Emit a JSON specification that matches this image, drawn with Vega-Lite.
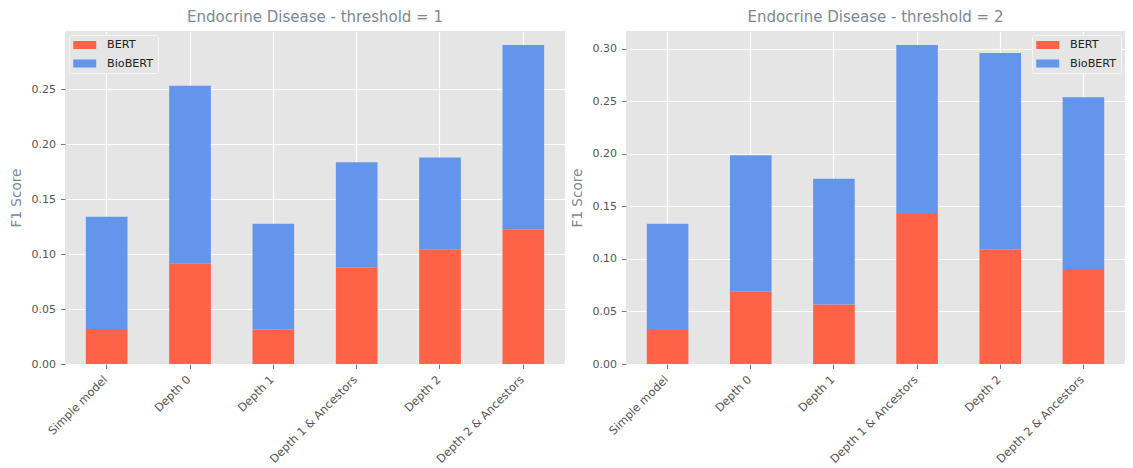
{
  "$schema": "https://vega.github.io/schema/vega-lite/v6.json",
  "padding": {"left": 9, "top": 10, "right": 0, "bottom": 0},
  "background": "white",
  "data": {
    "values": [
      {"threshold": 1, "config": "Simple model", "model": "BERT", "f1": 0.0319},
      {"threshold": 1, "config": "Simple model", "model": "BioBERT", "f1": 0.1022},
      {"threshold": 1, "config": "Depth 0", "model": "BERT", "f1": 0.0913},
      {"threshold": 1, "config": "Depth 0", "model": "BioBERT", "f1": 0.1620},
      {"threshold": 1, "config": "Depth 1", "model": "BERT", "f1": 0.0313},
      {"threshold": 1, "config": "Depth 1", "model": "BioBERT", "f1": 0.0964},
      {"threshold": 1, "config": "Depth 1 & Ancestors", "model": "BERT", "f1": 0.0880},
      {"threshold": 1, "config": "Depth 1 & Ancestors", "model": "BioBERT", "f1": 0.0956},
      {"threshold": 1, "config": "Depth 2", "model": "BERT", "f1": 0.1040},
      {"threshold": 1, "config": "Depth 2", "model": "BioBERT", "f1": 0.0841},
      {"threshold": 1, "config": "Depth 2 & Ancestors", "model": "BERT", "f1": 0.1226},
      {"threshold": 1, "config": "Depth 2 & Ancestors", "model": "BioBERT", "f1": 0.1678},
      {"threshold": 2, "config": "Simple model", "model": "BERT", "f1": 0.0324},
      {"threshold": 2, "config": "Simple model", "model": "BioBERT", "f1": 0.1011},
      {"threshold": 2, "config": "Depth 0", "model": "BERT", "f1": 0.0688},
      {"threshold": 2, "config": "Depth 0", "model": "BioBERT", "f1": 0.1297},
      {"threshold": 2, "config": "Depth 1", "model": "BERT", "f1": 0.0565},
      {"threshold": 2, "config": "Depth 1", "model": "BioBERT", "f1": 0.1198},
      {"threshold": 2, "config": "Depth 1 & Ancestors", "model": "BERT", "f1": 0.1427},
      {"threshold": 2, "config": "Depth 1 & Ancestors", "model": "BioBERT", "f1": 0.1608},
      {"threshold": 2, "config": "Depth 2", "model": "BERT", "f1": 0.1091},
      {"threshold": 2, "config": "Depth 2", "model": "BioBERT", "f1": 0.1868},
      {"threshold": 2, "config": "Depth 2 & Ancestors", "model": "BERT", "f1": 0.0904},
      {"threshold": 2, "config": "Depth 2 & Ancestors", "model": "BioBERT", "f1": 0.1633}
    ]
  },
  "spacing": 5,
  "resolve": {"scale": {"y": "independent"}, "legend": {"color": "independent"}},
  "hconcat": [
    {
      "width": 500,
      "height": 333,
      "title": {"text": "Endocrine Disease - threshold = 1"},
      "transform": [{"filter": "datum.threshold == 1"}],
      "mark": {"type": "bar"},
      "encoding": {
        "x": {
          "field": "config", "type": "nominal", "sort": null,
          "scale": {"paddingInner": 0.5, "paddingOuter": 0.25},
          "axis": {"title": null, "labelAngle": -45, "bandPosition": 0.5, "labelFontSize": 11.4, "labelOffset": -5}
        },
        "y": {
          "field": "f1", "type": "quantitative", "stack": "zero",
          "scale": {"domain": [0, 0.3032], "nice": false, "zero": true},
          "axis": {"title": "F1 Score", "values": [0, 0.05, 0.1, 0.15, 0.2, 0.25], "format": ".2f"}
        },
        "color": {
          "field": "model", "type": "nominal",
          "scale": {"domain": ["BERT", "BioBERT"], "range": ["#FF6347", "#6495ED"]},
          "legend": {"title": null, "orient": "top-left", "offset": 4}
        },
        "order": {"field": "model", "sort": "ascending"}
      }
    },
    {
      "width": 499,
      "height": 333,
      "title": {"text": "Endocrine Disease - threshold = 2"},
      "transform": [{"filter": "datum.threshold == 2"}],
      "mark": {"type": "bar"},
      "encoding": {
        "x": {
          "field": "config", "type": "nominal", "sort": null,
          "scale": {"paddingInner": 0.5, "paddingOuter": 0.25},
          "axis": {"title": null, "labelAngle": -45, "bandPosition": 0.5, "labelFontSize": 11.4, "labelOffset": -5}
        },
        "y": {
          "field": "f1", "type": "quantitative", "stack": "zero",
          "scale": {"domain": [0, 0.3168], "nice": false, "zero": true},
          "axis": {"title": "F1 Score", "values": [0, 0.05, 0.1, 0.15, 0.2, 0.25, 0.3], "format": ".2f"}
        },
        "color": {
          "field": "model", "type": "nominal",
          "scale": {"domain": ["BERT", "BioBERT"], "range": ["#FF6347", "#6495ED"]},
          "legend": {"title": null, "orient": "top-right", "offset": 4}
        },
        "order": {"field": "model", "sort": "ascending"}
      }
    }
  ],
  "config": {
    "font": "DejaVu Sans",
    "view": {"fill": "#E5E5E5", "stroke": null},
    "title": {"font": "DejaVu Sans", "fontSize": 15, "fontWeight": "normal", "color": "#778899", "anchor": "middle", "frame": "group", "offset": 6},
    "axis": {
      "labelFont": "DejaVu Sans", "labelFontSize": 11, "labelColor": "#555555",
      "titleFont": "DejaVu Sans", "titleFontSize": 13.6, "titleFontWeight": "normal", "titleColor": "#778899",
      "tickColor": "#555555", "tickSize": 4.5, "tickWidth": 0.8,
      "domain": false, "grid": true, "gridColor": "#FFFFFF", "gridWidth": 1.2,
      "labelPadding": 5, "titlePadding": 8
    },
    "legend": {
      "labelFont": "DejaVu Sans", "labelFontSize": 11.2, "labelColor": "#222222",
      "symbolType": "M-1,-0.7L3,-0.7L3,0.7L-1,0.7Z", "symbolSize": 132,
      "symbolStrokeWidth": 0, "symbolOpacity": 1,
      "fillColor": "#E5E5E5", "strokeColor": "#F5F5F5", "cornerRadius": 2,
      "padding": 4, "rowPadding": 6.5, "labelOffset": 22
    }
  }
}
